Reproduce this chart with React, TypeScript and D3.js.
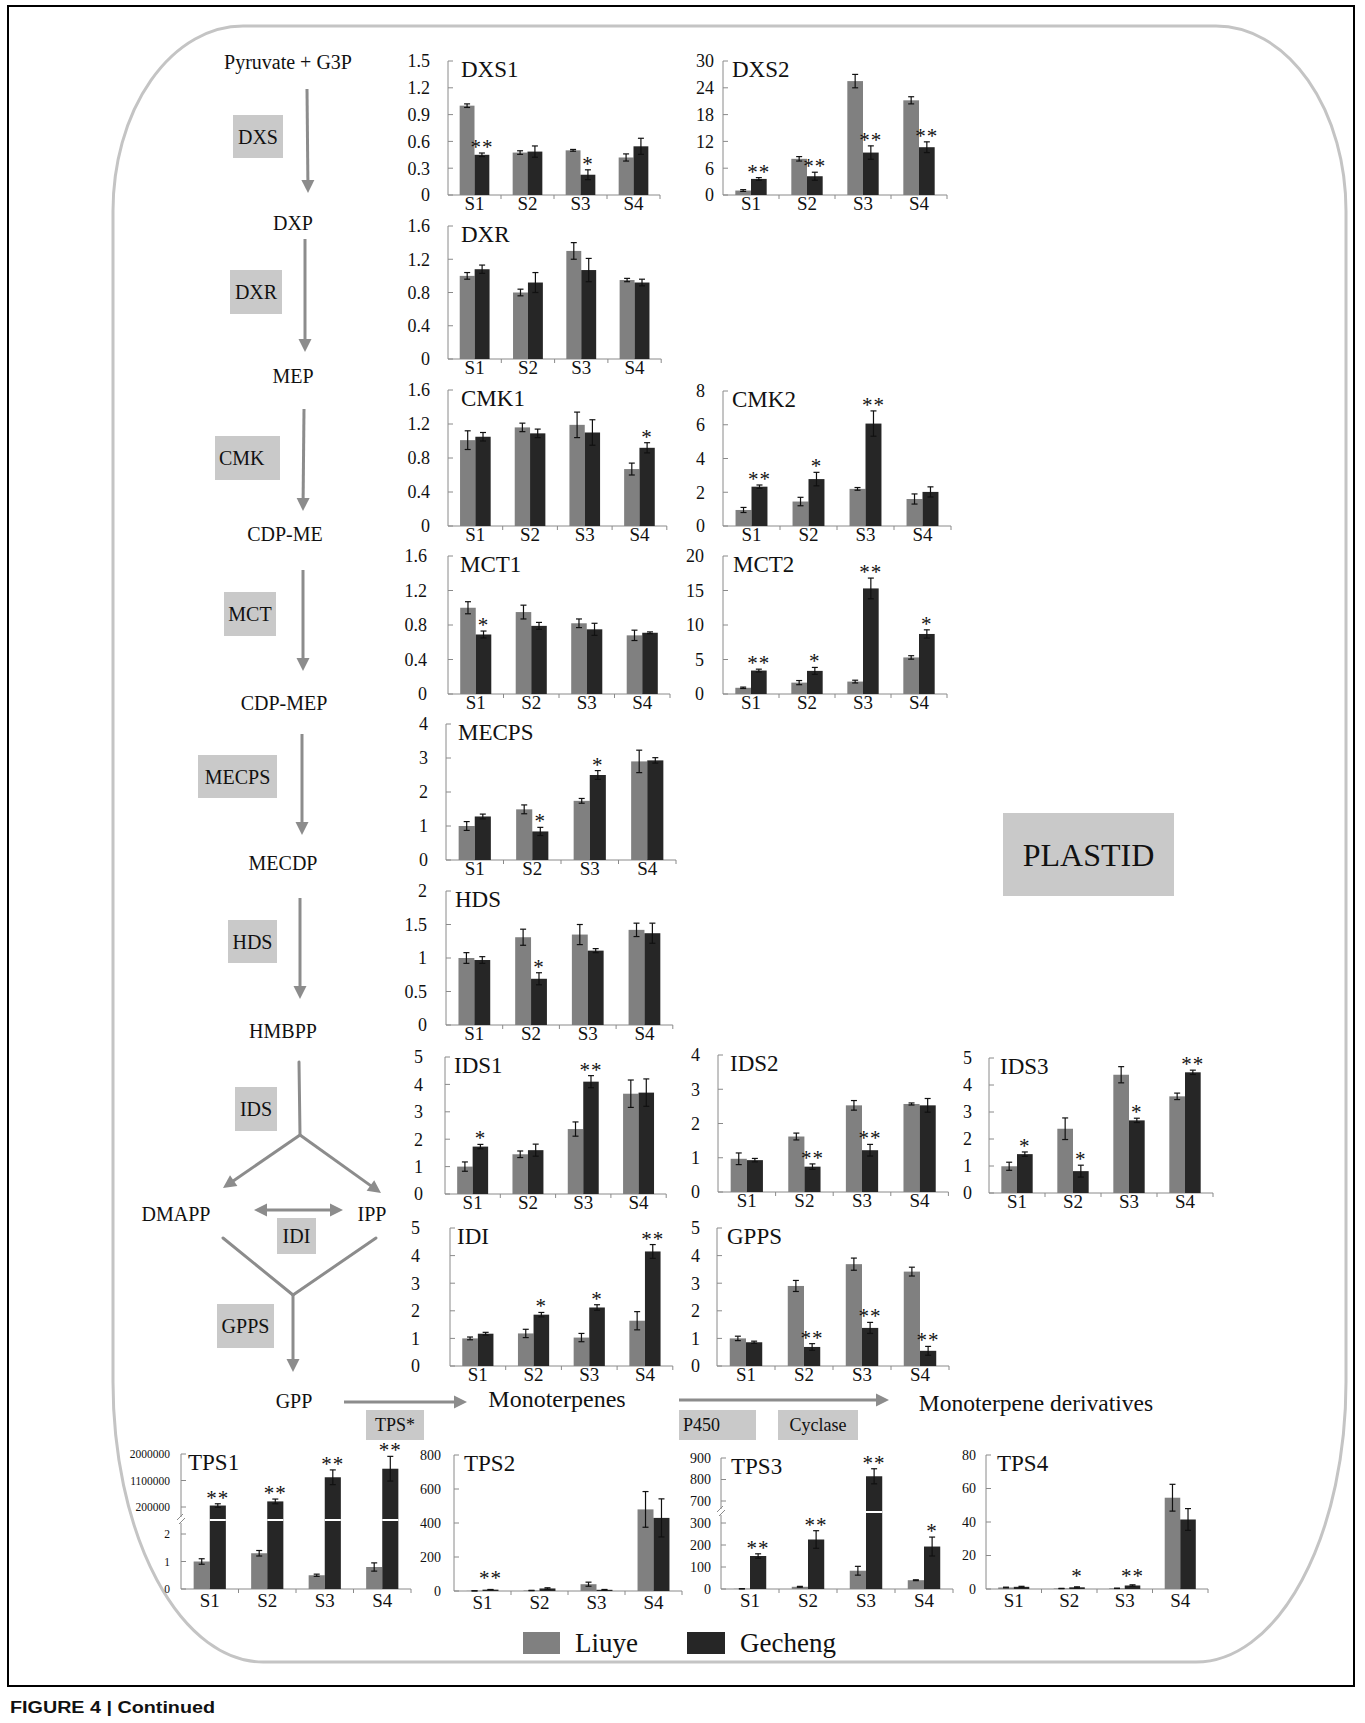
import React from "react";
import * as d3 from "d3";

// ---------------- DATA ----------------
const stages = ["S1", "S2", "S3", "S4"];
const seriesNames = ["Liuye", "Gecheng"];

const dxs1Liuye = [1.0, 0.475, 0.5, 0.42];
const dxs1LiuyeErr = [0.02, 0.02, 0.01, 0.04];
const dxs1Gecheng = [0.45, 0.486, 0.227, 0.545];
const dxs1GechengErr = [0.02, 0.063, 0.055, 0.09];
const dxs1Sig = ["**", "", "*", ""];
const dxs1Ticks = [0, 0.3, 0.6, 0.9, 1.2, 1.5];

const dxs2Liuye = [1.0, 8.1, 25.5, 21.2];
const dxs2LiuyeErr = [0.2, 0.5, 1.5, 0.8];
const dxs2Gecheng = [3.6, 4.2, 9.5, 10.7];
const dxs2GechengErr = [0.3, 0.9, 1.5, 1.2];
const dxs2Sig = ["**", "**", "**", "**"];
const dxs2Ticks = [0, 6, 12, 18, 24, 30];

const dxrLiuye = [1.0, 0.8, 1.3, 0.95];
const dxrLiuyeErr = [0.04, 0.04, 0.1, 0.02];
const dxrGecheng = [1.08, 0.92, 1.07, 0.92];
const dxrGechengErr = [0.05, 0.12, 0.14, 0.04];
const dxrSig = ["", "", "", ""];
const dxrTicks = [0, 0.4, 0.8, 1.2, 1.6];

const cmk1Liuye = [1.01, 1.16, 1.19, 0.67];
const cmk1LiuyeErr = [0.11, 0.05, 0.15, 0.07];
const cmk1Gecheng = [1.05, 1.09, 1.1, 0.92];
const cmk1GechengErr = [0.05, 0.05, 0.15, 0.06];
const cmk1Sig = ["", "", "", "*"];
const cmk1Ticks = [0, 0.4, 0.8, 1.2, 1.6];

const cmk2Liuye = [0.95, 1.45, 2.2, 1.6];
const cmk2LiuyeErr = [0.15, 0.25, 0.08, 0.3];
const cmk2Gecheng = [2.33, 2.78, 6.07, 2.02];
const cmk2GechengErr = [0.1, 0.4, 0.75, 0.3];
const cmk2Sig = ["**", "*", "**", ""];
const cmk2Ticks = [0, 2, 4, 6, 8];

const mct1Liuye = [1.0, 0.95, 0.82, 0.68];
const mct1LiuyeErr = [0.07, 0.08, 0.05, 0.06];
const mct1Gecheng = [0.69, 0.79, 0.75, 0.71];
const mct1GechengErr = [0.04, 0.04, 0.07, 0.01];
const mct1Sig = ["*", "", "", ""];
const mct1Ticks = [0, 0.4, 0.8, 1.2, 1.6];

const mct2Liuye = [0.9, 1.65, 1.8, 5.3];
const mct2LiuyeErr = [0.1, 0.3, 0.2, 0.25];
const mct2Gecheng = [3.4, 3.35, 15.3, 8.7];
const mct2GechengErr = [0.2, 0.5, 1.5, 0.6];
const mct2Sig = ["**", "*", "**", "*"];
const mct2Ticks = [0, 5, 10, 15, 20];

const mecpsLiuye = [1.0, 1.49, 1.74, 2.9];
const mecpsLiuyeErr = [0.13, 0.13, 0.07, 0.33];
const mecpsGecheng = [1.28, 0.84, 2.5, 2.93];
const mecpsGechengErr = [0.07, 0.12, 0.13, 0.08];
const mecpsSig = ["", "*", "*", ""];
const mecpsTicks = [0, 1, 2, 3, 4];

const hdsLiuye = [1.0, 1.31, 1.35, 1.42];
const hdsLiuyeErr = [0.08, 0.12, 0.15, 0.1];
const hdsGecheng = [0.97, 0.69, 1.11, 1.37];
const hdsGechengErr = [0.05, 0.09, 0.03, 0.15];
const hdsSig = ["", "*", "", ""];
const hdsTicks = [0, 0.5, 1, 1.5, 2];

const ids1Liuye = [1.0, 1.45, 2.37, 3.66];
const ids1LiuyeErr = [0.17, 0.12, 0.26, 0.5];
const ids1Gecheng = [1.73, 1.6, 4.1, 3.7];
const ids1GechengErr = [0.08, 0.22, 0.22, 0.5];
const ids1Sig = ["*", "", "**", ""];
const ids1Ticks = [0, 1, 2, 3, 4, 5];

const ids2Liuye = [0.97, 1.62, 2.53, 2.57];
const ids2LiuyeErr = [0.17, 0.1, 0.14, 0.03];
const ids2Gecheng = [0.93, 0.74, 1.22, 2.53];
const ids2GechengErr = [0.05, 0.08, 0.17, 0.2];
const ids2Sig = ["", "**", "**", ""];
const ids2Ticks = [0, 1, 2, 3, 4];

const ids3Liuye = [0.99, 2.38, 4.38, 3.58];
const ids3LiuyeErr = [0.15, 0.4, 0.3, 0.12];
const ids3Gecheng = [1.44, 0.81, 2.69, 4.47];
const ids3GechengErr = [0.08, 0.22, 0.08, 0.08];
const ids3Sig = ["*", "*", "*", "**"];
const ids3Ticks = [0, 1, 2, 3, 4, 5];

const idiLiuye = [1.0, 1.18, 1.03, 1.64];
const idiLiuyeErr = [0.05, 0.15, 0.15, 0.33];
const idiGecheng = [1.17, 1.86, 2.12, 4.15];
const idiGechengErr = [0.05, 0.08, 0.1, 0.25];
const idiSig = ["", "*", "*", "**"];
const idiTicks = [0, 1, 2, 3, 4, 5];

const gppsLiuye = [1.0, 2.9, 3.69, 3.42];
const gppsLiuyeErr = [0.08, 0.2, 0.22, 0.16];
const gppsGecheng = [0.86, 0.69, 1.38, 0.55];
const gppsGechengErr = [0.04, 0.12, 0.2, 0.16];
const gppsSig = ["", "**", "**", "**"];
const gppsTicks = [0, 1, 2, 3, 4, 5];

const tps1Liuye = [1.0, 1.3, 0.5, 0.8];
const tps1LiuyeErr = [0.1, 0.1, 0.04, 0.15];
const tps1Gecheng = [250000, 390000, 1210000, 1500000];
const tps1GechengErr = [60000, 80000, 250000, 420000];
const tps1Sig = ["**", "**", "**", "**"];
const tps1LowerTicks = [0, 1, 2];
const tps1UpperTicks = [200000, 1100000, 2000000];

const tps2Liuye = [1, 3, 40, 480];
const tps2LiuyeErr = [0.5, 1, 12, 105];
const tps2Gecheng = [8, 15, 7, 430];
const tps2GechengErr = [1, 4, 2, 112];
const tps2Sig = ["**", "", "", ""];
const tps2Ticks = [0, 200, 400, 600, 800];

const tps3Liuye = [1, 10, 83, 40];
const tps3LiuyeErr = [0.5, 2, 20, 2];
const tps3Gecheng = [150, 225, 815, 193];
const tps3GechengErr = [10, 40, 35, 43];
const tps3Sig = ["**", "**", "**", "*"];
const tps3LowerTicks = [0, 100, 200, 300];
const tps3UpperTicks = [700, 800, 900];

const tps4Liuye = [0.9, 0.3, 0.4, 54.5];
const tps4LiuyeErr = [0.2, 0.1, 0.1, 8];
const tps4Gecheng = [1.3, 1.0, 2.1, 41.5];
const tps4GechengErr = [0.3, 0.3, 0.4, 6.5];
const tps4Sig = ["", "*", "**", ""];
const tps4Ticks = [0, 20, 40, 60, 80];

// ---------------- STYLE ----------------
const SERIF = "'Liberation Serif', 'Times New Roman', Times, serif";
const LIUYE_COLOR = "#808080";
const GECHENG_COLOR = "#262626";
const AXIS_COLOR = "#8a8a8a";
const ARROW_COLOR = "#8c8c8c";
const BOX_COLOR = "#c9c9c9";

interface Panel {
  title: string;
  liuye: number[];
  liuyeErr: number[];
  gecheng: number[];
  gechengErr: number[];
  sig: string[];
  ticks: number[];
  upperTicks?: number[];
  x0: number;
  step: number;
  top: number;
  base: number;
  gap: number;
  tickFont: number;
  lowTop?: number;
  upperBottom?: number;
  breakY?: number;
  labelDy: number;
  titleDx: number;
}

const panels: Panel[] = [
  { title: "DXS1", liuye: dxs1Liuye, liuyeErr: dxs1LiuyeErr, gecheng: dxs1Gecheng, gechengErr: dxs1GechengErr, sig: dxs1Sig, ticks: dxs1Ticks, x0: 448, step: 53, top: 61, base: 195, gap: 18, tickFont: 18, labelDy: 15, titleDx: 13 },
  { title: "DXS2", liuye: dxs2Liuye, liuyeErr: dxs2LiuyeErr, gecheng: dxs2Gecheng, gechengErr: dxs2GechengErr, sig: dxs2Sig, ticks: dxs2Ticks, x0: 723, step: 56, top: 61, base: 195, gap: 9, tickFont: 18, labelDy: 15, titleDx: 9 },
  { title: "DXR", liuye: dxrLiuye, liuyeErr: dxrLiuyeErr, gecheng: dxrGecheng, gechengErr: dxrGechengErr, sig: dxrSig, ticks: dxrTicks, x0: 448, step: 53.3, top: 226, base: 359, gap: 18, tickFont: 18, labelDy: 15, titleDx: 13 },
  { title: "CMK1", liuye: cmk1Liuye, liuyeErr: cmk1LiuyeErr, gecheng: cmk1Gecheng, gechengErr: cmk1GechengErr, sig: cmk1Sig, ticks: cmk1Ticks, x0: 448, step: 54.7, top: 390, base: 526, gap: 18, tickFont: 18, labelDy: 15, titleDx: 13 },
  { title: "CMK2", liuye: cmk2Liuye, liuyeErr: cmk2LiuyeErr, gecheng: cmk2Gecheng, gechengErr: cmk2GechengErr, sig: cmk2Sig, ticks: cmk2Ticks, x0: 723, step: 57, top: 391, base: 526, gap: 18, tickFont: 18, labelDy: 15, titleDx: 9 },
  { title: "MCT1", liuye: mct1Liuye, liuyeErr: mct1LiuyeErr, gecheng: mct1Gecheng, gechengErr: mct1GechengErr, sig: mct1Sig, ticks: mct1Ticks, x0: 448, step: 55.5, top: 556, base: 694, gap: 21, tickFont: 18, labelDy: 15, titleDx: 12 },
  { title: "MCT2", liuye: mct2Liuye, liuyeErr: mct2LiuyeErr, gecheng: mct2Gecheng, gechengErr: mct2GechengErr, sig: mct2Sig, ticks: mct2Ticks, x0: 723, step: 56, top: 556, base: 694, gap: 19, tickFont: 18, labelDy: 15, titleDx: 10 },
  { title: "MECPS", liuye: mecpsLiuye, liuyeErr: mecpsLiuyeErr, gecheng: mecpsGecheng, gechengErr: mecpsGechengErr, sig: mecpsSig, ticks: mecpsTicks, x0: 446, step: 57.5, top: 724, base: 860, gap: 18, tickFont: 18, labelDy: 15, titleDx: 12 },
  { title: "HDS", liuye: hdsLiuye, liuyeErr: hdsLiuyeErr, gecheng: hdsGecheng, gechengErr: hdsGechengErr, sig: hdsSig, ticks: hdsTicks, x0: 446, step: 56.7, top: 891, base: 1025, gap: 19, tickFont: 18, labelDy: 15, titleDx: 9 },
  { title: "IDS1", liuye: ids1Liuye, liuyeErr: ids1LiuyeErr, gecheng: ids1Gecheng, gechengErr: ids1GechengErr, sig: ids1Sig, ticks: ids1Ticks, x0: 445, step: 55.3, top: 1057, base: 1194, gap: 22, tickFont: 18, labelDy: 15, titleDx: 9 },
  { title: "IDS2", liuye: ids2Liuye, liuyeErr: ids2LiuyeErr, gecheng: ids2Gecheng, gechengErr: ids2GechengErr, sig: ids2Sig, ticks: ids2Ticks, x0: 718, step: 57.6, top: 1055, base: 1192, gap: 18, tickFont: 18, labelDy: 15, titleDx: 12 },
  { title: "IDS3", liuye: ids3Liuye, liuyeErr: ids3LiuyeErr, gecheng: ids3Gecheng, gechengErr: ids3GechengErr, sig: ids3Sig, ticks: ids3Ticks, x0: 989, step: 56, top: 1058, base: 1193, gap: 17, tickFont: 18, labelDy: 15, titleDx: 11 },
  { title: "IDI", liuye: idiLiuye, liuyeErr: idiLiuyeErr, gecheng: idiGecheng, gechengErr: idiGechengErr, sig: idiSig, ticks: idiTicks, x0: 450, step: 55.7, top: 1228, base: 1366, gap: 30, tickFont: 18, labelDy: 15, titleDx: 7 },
  { title: "GPPS", liuye: gppsLiuye, liuyeErr: gppsLiuyeErr, gecheng: gppsGecheng, gechengErr: gppsGechengErr, sig: gppsSig, ticks: gppsTicks, x0: 717, step: 58, top: 1228, base: 1366, gap: 17, tickFont: 18, labelDy: 15, titleDx: 10 },
  { title: "TPS1", liuye: tps1Liuye, liuyeErr: tps1LiuyeErr, gecheng: tps1Gecheng, gechengErr: tps1GechengErr, sig: tps1Sig, ticks: tps1LowerTicks, upperTicks: tps1UpperTicks, x0: 181, step: 57.5, top: 1454, base: 1589, gap: 11, tickFont: 11.5, lowTop: 1534, upperBottom: 1507, breakY: 1520, labelDy: 18, titleDx: 7 },
  { title: "TPS2", liuye: tps2Liuye, liuyeErr: tps2LiuyeErr, gecheng: tps2Gecheng, gechengErr: tps2GechengErr, sig: tps2Sig, ticks: tps2Ticks, x0: 454, step: 57, top: 1455, base: 1591, gap: 13, tickFont: 14, labelDy: 18, titleDx: 10 },
  { title: "TPS3", liuye: tps3Liuye, liuyeErr: tps3LiuyeErr, gecheng: tps3Gecheng, gechengErr: tps3GechengErr, sig: tps3Sig, ticks: tps3LowerTicks, upperTicks: tps3UpperTicks, x0: 721, step: 58, top: 1458, base: 1589, gap: 10, tickFont: 14, lowTop: 1523, upperBottom: 1501, breakY: 1512, labelDy: 18, titleDx: 10 },
  { title: "TPS4", liuye: tps4Liuye, liuyeErr: tps4LiuyeErr, gecheng: tps4Gecheng, gechengErr: tps4GechengErr, sig: tps4Sig, ticks: tps4Ticks, x0: 986, step: 55.5, top: 1455, base: 1589, gap: 10, tickFont: 14, labelDy: 18, titleDx: 11 },
];

function makeY(p: Panel) {
  const lowMax = d3.max(p.ticks) as number;
  if (!p.upperTicks) {
    const s = d3.scaleLinear().domain([0, lowMax]).range([p.base, p.top]);
    return (v: number) => s(v);
  }
  const low = d3.scaleLinear().domain([0, lowMax]).range([p.base, p.lowTop as number]);
  const up = p.upperTicks;
  const high = d3
    .scaleLinear()
    .domain([up[0], up[up.length - 1]])
    .range([p.upperBottom as number, p.top]);
  return (v: number) => (v <= lowMax * 1.5 ? low(v) : high(v));
}

function BarPanel({ p }: { p: Panel }) {
  const y = makeY(p);
  const xEnd = p.x0 + p.step * 4;
  const x = d3.scaleBand().domain(stages).range([p.x0, xEnd]);
  const bw = p.step * 0.28;
  const inner = d3.scaleBand().domain(seriesNames).range([-bw, bw]);
  const allTicks = [...p.ticks, ...(p.upperTicks || [])];
  const lowMax = d3.max(p.ticks) as number;
  return (
    <g>
      <line x1={p.x0} x2={p.x0} y1={p.top} y2={p.base} stroke={AXIS_COLOR} strokeWidth={1} />
      <line x1={p.x0} x2={xEnd} y1={p.base} y2={p.base} stroke={AXIS_COLOR} strokeWidth={1} />
      {allTicks.map((t) => (
        <g key={"t" + t}>
          <line x1={p.x0} x2={p.x0 + 5} y1={y(t)} y2={y(t)} stroke={AXIS_COLOR} />
          <text x={p.x0 - p.gap} y={y(t)} dy="0.35em" textAnchor="end" fontSize={p.tickFont} fill="#111">
            {String(t)}
          </text>
        </g>
      ))}
      {stages.map((s) => {
        const bx = (x(s) as number) + p.step;
        return <line key={"xt" + s} x1={bx} x2={bx} y1={p.base} y2={p.base + 4} stroke={AXIS_COLOR} />;
      })}
      {p.breakY !== undefined && (
        <g>
          <rect x={p.x0 - 2} y={p.breakY - 3} width={4} height={6} fill="#fff" />
          <line x1={p.x0 - 4} y1={p.breakY} x2={p.x0 + 2} y2={p.breakY - 6} stroke={AXIS_COLOR} />
          <line x1={p.x0 - 2} y1={p.breakY + 4} x2={p.x0 + 4} y2={p.breakY - 2} stroke={AXIS_COLOR} />
        </g>
      )}
      {stages.map((s, i) => {
        const cx = (x(s) as number) + p.step / 2;
        const vals = [
          { name: "Liuye", v: p.liuye[i], e: p.liuyeErr[i], color: LIUYE_COLOR },
          { name: "Gecheng", v: p.gecheng[i], e: p.gechengErr[i], color: GECHENG_COLOR },
        ];
        const sigY = Math.min(y(p.gecheng[i] + p.gechengErr[i]) + 1, p.base - 6);
        return (
          <g key={"g" + s}>
            {vals.map((d) => {
              const bx = cx + (inner(d.name) as number);
              const top = y(d.v);
              const mid = bx + bw / 2;
              const eTop = y(d.v + d.e);
              const eBot = y(Math.max(0, d.v - d.e));
              return (
                <g key={d.name}>
                  <rect x={bx} y={top} width={bw} height={p.base - top} fill={d.color} />
                  {p.breakY !== undefined && d.v > lowMax * 1.5 && (
                    <line x1={bx} x2={bx + bw} y1={p.breakY} y2={p.breakY} stroke="#fff" strokeWidth={2} />
                  )}
                  <line x1={mid} x2={mid} y1={eTop} y2={eBot} stroke="#111" strokeWidth={1.2} />
                  <line x1={mid - 3} x2={mid + 3} y1={eTop} y2={eTop} stroke="#111" strokeWidth={1.2} />
                  <line x1={mid - 3} x2={mid + 3} y1={eBot} y2={eBot} stroke="#111" strokeWidth={1.2} />
                </g>
              );
            })}
            {p.sig[i] && (
              <text
                x={cx + (inner("Gecheng") as number) + bw / 2}
                y={sigY}
                textAnchor="middle"
                fontSize={21}
                letterSpacing={1}
                fill="#111"
              >
                {p.sig[i]}
              </text>
            )}
            <text x={cx} y={p.base + p.labelDy} textAnchor="middle" fontSize={19} fill="#111">
              {s}
            </text>
          </g>
        );
      })}
      <text x={p.x0 + p.titleDx} y={p.top + 16} fontSize={23} fill="#111">
        {p.title}
      </text>
    </g>
  );
}

function Arrow({ x1, y1, x2, y2, both = false }: { x1: number; y1: number; x2: number; y2: number; both?: boolean }) {
  const ang = Math.atan2(y2 - y1, x2 - x1);
  const L = 13;
  const W = 6.5;
  const head = (tx: number, ty: number, a: number) => {
    const bx = tx - L * Math.cos(a);
    const by = ty - L * Math.sin(a);
    const px = -Math.sin(a) * W;
    const py = Math.cos(a) * W;
    return `M${tx},${ty}L${bx + px},${by + py}L${bx - px},${by - py}Z`;
  };
  const sx = both ? x1 + (L - 2) * Math.cos(ang) : x1;
  const sy = both ? y1 + (L - 2) * Math.sin(ang) : y1;
  const ex = x2 - (L - 2) * Math.cos(ang);
  const ey = y2 - (L - 2) * Math.sin(ang);
  return (
    <g>
      <line x1={sx} y1={sy} x2={ex} y2={ey} stroke={ARROW_COLOR} strokeWidth={3} />
      <path d={head(x2, y2, ang)} fill={ARROW_COLOR} />
      {both && <path d={head(x1, y1, ang + Math.PI)} fill={ARROW_COLOR} />}
    </g>
  );
}

function Seg({ x1, y1, x2, y2 }: { x1: number; y1: number; x2: number; y2: number }) {
  return <line x1={x1} y1={y1} x2={x2} y2={y2} stroke={ARROW_COLOR} strokeWidth={3} strokeLinecap="round" />;
}

function Box({ x, y, w, h, label, fs = 20, left = false }: { x: number; y: number; w: number; h: number; label: string; fs?: number; left?: boolean }) {
  return (
    <g>
      <rect x={x} y={y} width={w} height={h} fill={BOX_COLOR} />
      <text
        x={left ? x + 4 : x + w / 2}
        y={y + h / 2}
        dy="0.35em"
        textAnchor={left ? "start" : "middle"}
        fontSize={fs}
        fill="#111"
      >
        {label}
      </text>
    </g>
  );
}

function Label({ x, y, t, fs = 20 }: { x: number; y: number; t: string; fs?: number }) {
  return (
    <text x={x} y={y} dy="0.35em" textAnchor="middle" fontSize={fs} fill="#111">
      {t}
    </text>
  );
}

export default function App() {
  const X1 = 113,
    Y1 = 26,
    X2 = 1346,
    Y2 = 1662;
  const trx = 130,
    try_ = 185,
    brx = 150,
    bry = 280;
  const plastidPath = `M${X1 + trx},${Y1} H${X2 - trx} A${trx} ${try_} 0 0 1 ${X2},${Y1 + try_} V${Y2 - bry} A${brx} ${bry} 0 0 1 ${X2 - brx},${Y2} H${X1 + brx} A${brx} ${bry} 0 0 1 ${X1},${Y2 - bry} V${Y1 + try_} A${trx} ${try_} 0 0 1 ${X1 + trx},${Y1} Z`;

  return (
    <svg
      width={1365}
      height={1723}
      style={{ position: "absolute", left: 0, top: 0, background: "#fff" }}
      fontFamily={SERIF}
    >
      <rect x={0} y={0} width={1365} height={1723} fill="#fff" />
      <rect x={8} y={6} width={1346} height={1680} fill="none" stroke="#000" strokeWidth={2} />
      <path d={plastidPath} fill="none" stroke="#c4c4c4" strokeWidth={3} />

      {/* pathway */}
      <Label x={288} y={62} t="Pyruvate + G3P" />
      <Arrow x1={307} y1={89} x2={308} y2={193} />
      <Box x={233} y={115} w={50} h={43} label="DXS" />
      <Label x={293} y={223} t="DXP" />
      <Arrow x1={305} y1={239} x2={305} y2={352} />
      <Box x={230} y={270} w={52} h={44} label="DXR" />
      <Label x={293} y={376} t="MEP" />
      <Arrow x1={304} y1={409} x2={303} y2={511} />
      <Box x={215} y={436} w={65} h={44} label="CMK" left />
      <Label x={285} y={534} t="CDP-ME" />
      <Arrow x1={303} y1={570} x2={303} y2={671} />
      <Box x={224} y={592} w={52} h={44} label="MCT" />
      <Label x={284} y={703} t="CDP-MEP" />
      <Arrow x1={302} y1={734} x2={302} y2={835} />
      <Box x={198} y={755} w={79} h={43} label="MECPS" />
      <Label x={283} y={863} t="MECDP" />
      <Arrow x1={300} y1={898} x2={300} y2={999} />
      <Box x={228} y={920} w={49} h={43} label="HDS" />
      <Label x={283} y={1031} t="HMBPP" />
      <Seg x1={299} y1={1062} x2={300} y2={1135} />
      <Box x={235} y={1087} w={42} h={44} label="IDS" />
      <Arrow x1={300} y1={1135} x2={223} y2={1188} />
      <Arrow x1={300} y1={1135} x2={381} y2={1193} />
      <Label x={176} y={1214} t="DMAPP" />
      <Label x={372} y={1214} t="IPP" />
      <Arrow x1={254} y1={1210} x2={343} y2={1210} both />
      <Box x={277} y={1218} w={39} h={36} label="IDI" />
      <Seg x1={223} y1={1238} x2={293} y2={1295} />
      <Seg x1={376} y1={1238} x2={293} y2={1295} />
      <Arrow x1={293} y1={1295} x2={293} y2={1372} />
      <Box x={217} y={1304} w={57} h={44} label="GPPS" />
      <Label x={294} y={1401} t="GPP" />
      <Arrow x1={344} y1={1402} x2={467} y2={1402} />
      <Box x={366} y={1410} w={58} h={30} label="TPS*" fs={18} />
      <Label x={557} y={1399} t="Monoterpenes" fs={24} />
      <Arrow x1={679} y1={1400} x2={889} y2={1400} />
      <Box x={679} y={1410} w={77} h={30} label="P450" fs={18} left />
      <Box x={778} y={1410} w={80} h={30} label="Cyclase" fs={18} />
      <Label x={1036} y={1403} t="Monoterpene derivatives" fs={23.5} />

      <Box x={1003} y={813} w={171} h={83} label="PLASTID" fs={32} />

      {panels.map((p) => (
        <BarPanel key={p.title} p={p} />
      ))}

      {/* legend */}
      <rect x={523} y={1632} width={37} height={22} fill={LIUYE_COLOR} />
      <text x={575} y={1652} fontSize={27} fill="#111">
        Liuye
      </text>
      <rect x={687} y={1632} width={38} height={22} fill={GECHENG_COLOR} />
      <text x={740} y={1652} fontSize={27} fill="#111">
        Gecheng
      </text>

      <text
        x={10}
        y={1713}
        fontFamily="'Liberation Sans Narrow', 'Liberation Sans', Arial, sans-serif"
        fontWeight="bold"
        fontSize={16}
        textLength={205}
        lengthAdjust="spacingAndGlyphs"
        fill="#111"
      >
        FIGURE 4 | Continued
      </text>
    </svg>
  );
}
